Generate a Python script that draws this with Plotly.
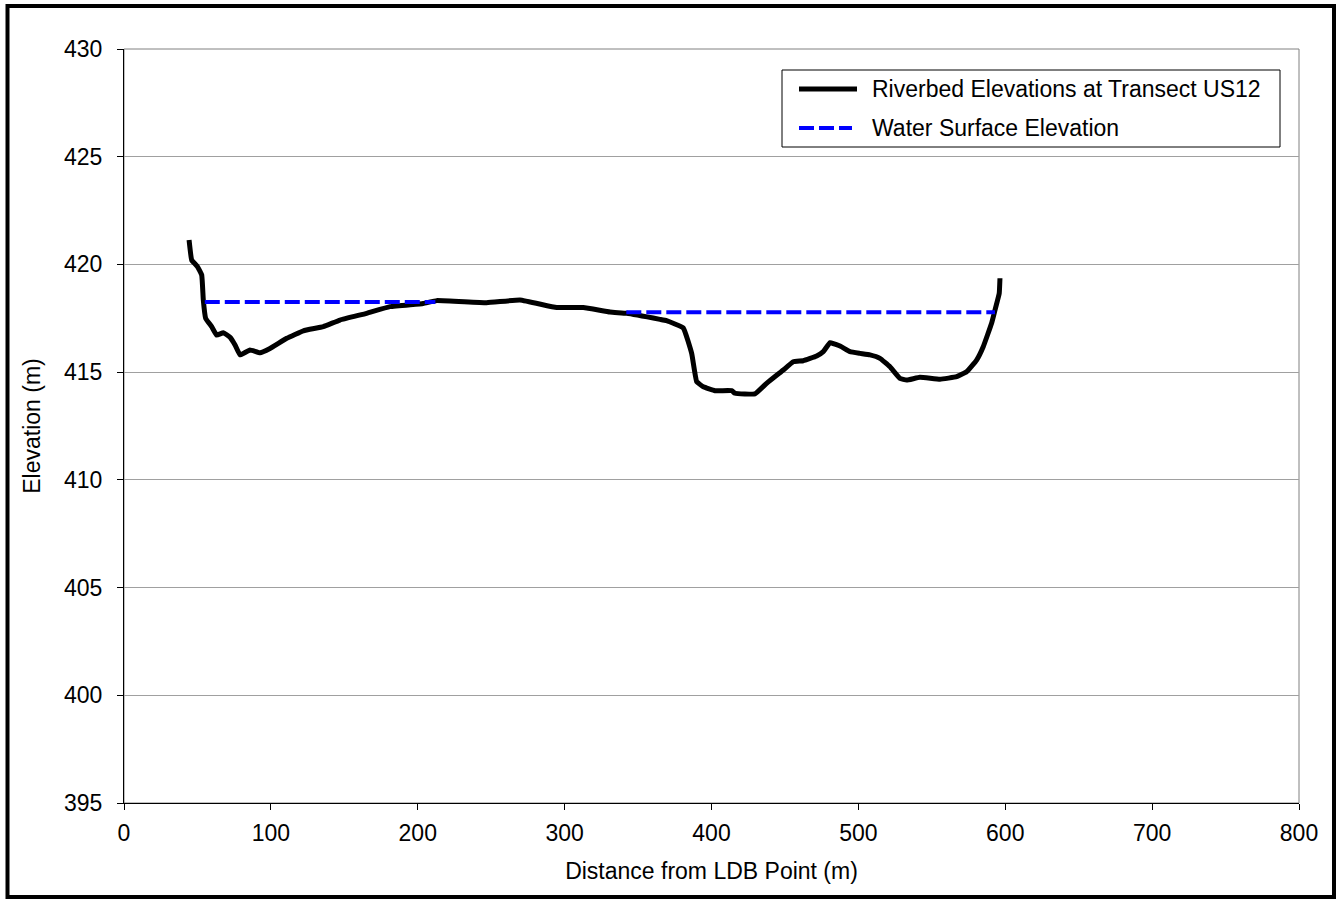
import plotly.graph_objects as go

# Riverbed cross-section at transect US12
distance_m = [44.3, 46.1, 50.0, 52.9, 54.0, 55.6, 59.7, 63.1, 67.6, 72.2, 75.6, 79.0,
              85.8, 92.6, 99.4, 110.8, 122.1, 135.7, 147.1, 165.2, 181.1, 203.7, 212.9,
              246.9, 269.6, 294.6, 312.7, 330.9, 342.3, 364.9, 369.4, 380.8, 386.5,
              389.9, 394.4, 402.4, 413.7, 416.0, 429.6, 437.5, 448.9, 455.7, 462.5,
              471.6, 476.1, 480.7, 487.5, 494.3, 501.1, 507.9, 514.7, 521.5, 528.3,
              532.9, 541.9, 555.6, 566.9, 573.7, 580.5, 585.0, 590.7, 593.0, 595.9, 596.4]
bed_elev_m = [421.13, 420.2, 419.9, 419.51, 418.35, 417.5, 417.11, 416.72, 416.83, 416.62,
              416.26, 415.8, 416.03, 415.9, 416.1, 416.57, 416.92, 417.11, 417.42, 417.73,
              418.04, 418.19, 418.32, 418.22, 418.35, 418.0, 418.0, 417.79, 417.73, 417.45,
              417.39, 417.05, 415.87, 414.56, 414.32, 414.14, 414.14, 414.02, 413.99,
              414.48, 415.1, 415.48, 415.53, 415.75, 415.95, 416.37, 416.21, 415.95,
              415.87, 415.8, 415.64, 415.25, 414.71, 414.63, 414.76, 414.67, 414.79,
              415.02, 415.56, 416.18, 417.27, 417.88, 418.66, 419.36]

# Water surface (two wetted reaches, gap over the dry bar)
ws_distance_m = [55, 212, None, 342, 593]
ws_elev_m = [418.26, 418.26, None, 417.78, 417.78]

x_ticks = [0, 100, 200, 300, 400, 500, 600, 700, 800]
y_ticks = [395, 400, 405, 410, 415, 420, 425, 430]

legend_labels = ["Riverbed Elevations at Transect US12", "Water Surface Elevation"]

FONT = "Liberation Sans, Arial, sans-serif"
FS = 23

fig = go.Figure()
fig.add_trace(go.Scatter(x=distance_m, y=bed_elev_m, mode="lines",
                         line=dict(color="black", width=5, shape="spline", smoothing=0.3),
                         name=legend_labels[0], showlegend=False))
fig.add_trace(go.Scatter(x=ws_distance_m, y=ws_elev_m, mode="lines", connectgaps=False,
                         line=dict(color="#0000ff", width=4, dash="15px,5px"),
                         name=legend_labels[1], showlegend=False))

L, R, T, B = 124, 41, 49, 96
W, H = 1340, 899
pw, ph = W - L - R, H - T - B


def px(xp):
    return (xp - L) / pw


def py(yp):
    return (H - B - yp) / ph


shapes = [
    # plot-area border
    dict(type="rect", xref="paper", yref="paper", x0=0, x1=1, y0=0, y1=1,
         line=dict(color="#808080", width=1), layer="below"),
    # outer chart frame
    dict(type="rect", xref="paper", yref="paper", x0=px(7.5), x1=px(1334), y0=py(897), y1=py(6),
         line=dict(color="black", width=4)),
    # legend box
    dict(type="rect", xref="paper", yref="paper", x0=px(782), x1=px(1280), y0=py(147), y1=py(70),
         line=dict(color="black", width=1), fillcolor="white"),
    dict(type="line", xref="paper", yref="paper", x0=px(799), x1=px(857), y0=py(89), y1=py(89),
         line=dict(color="black", width=5)),
    dict(type="line", xref="paper", yref="paper", x0=px(799), x1=px(852), y0=py(128), y1=py(128),
         line=dict(color="#0000ff", width=4, dash="15px,5px")),
]

annotations = [
    dict(xref="paper", yref="paper", x=px(870), y=py(89), text=legend_labels[0],
         showarrow=False, xanchor="left", yanchor="middle",
         font=dict(family=FONT, size=FS, color="black")),
    dict(xref="paper", yref="paper", x=px(870), y=py(128), text=legend_labels[1],
         showarrow=False, xanchor="left", yanchor="middle",
         font=dict(family=FONT, size=FS, color="black")),
]

fig.update_layout(
    width=W, height=H,
    margin=dict(l=L, r=R, t=T, b=B, pad=0),
    paper_bgcolor="white", plot_bgcolor="white",
    font=dict(family=FONT, size=FS, color="black"),
    shapes=shapes, annotations=annotations,
    xaxis=dict(range=[0, 800], tickvals=x_ticks, showgrid=False, zeroline=False,
               showline=True, linecolor="black", linewidth=1,
               ticks="outside", ticklen=6, tickcolor="black", ticklabelstandoff=3,
               title=dict(text="Distance from LDB Point (m)", standoff=18,
                          font=dict(family=FONT, size=FS))),
    yaxis=dict(range=[395, 430], tickvals=y_ticks, showgrid=True, gridcolor="#a0a0a0",
               gridwidth=1, zeroline=False,
               showline=True, linecolor="black", linewidth=1,
               ticks="outside", ticklen=6, tickcolor="black", ticklabelstandoff=10,
               title=dict(text="Elevation (m)", standoff=16,
                          font=dict(family=FONT, size=FS))),
)

fig.write_html("out.html")
